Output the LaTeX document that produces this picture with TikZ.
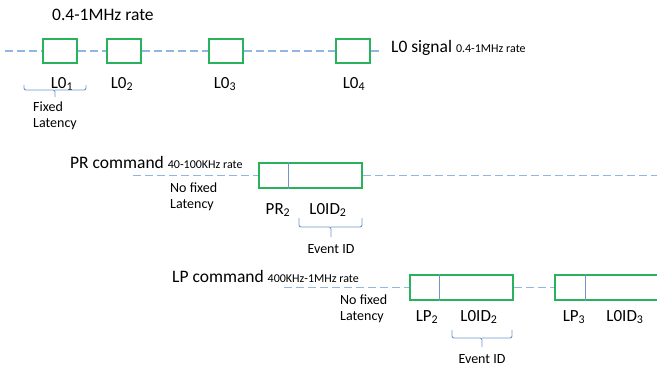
\documentclass[tikz,border=0pt]{standalone}
\usepackage{fontspec}
\setmainfont{Carlito}
\usetikzlibrary{positioning}
\definecolor{boxgreen}{RGB}{40,178,92}
\definecolor{linkblue}{RGB}{146,182,226}
\definecolor{bracblue}{RGB}{110,150,204}

\begin{document}
\begin{tikzpicture}[x=1pt, y=-1pt,
    frame/.style={rectangle, draw=boxgreen, line width=2pt, fill=white,
        minimum width=34pt, minimum height=24pt, inner sep=0pt},
    cmdframe/.style={frame, minimum width=103pt, minimum height=25pt},
    signal/.style={draw=linkblue, line width=1.2pt, dash pattern=on 8pt off 4pt},
    divider/.style={draw=bracblue, line width=0.9pt},
    bracket/.style={draw=bracblue, line width=0.9pt, rounded corners=2pt},
    title/.style={anchor=base west, inner sep=0pt, font=\fontsize{17.5}{20}\selectfont},
    label/.style={anchor=base, inner sep=0pt, font=\fontsize{17}{20}\selectfont},
    note/.style={anchor=north west, inner sep=0pt, align=left, font=\fontsize{14}{16}\selectfont},
    small/.style={font=\fontsize{12}{14}\selectfont}
]
\useasboundingbox (0,0) rectangle (657,370);
\clip (0,0) rectangle (657,370);

% L0 signal
\node (rate) [title] at (52,20) {0.4-1MHz rate};
\coordinate (L0start) at (5,51);
\node (L01) [frame] at (60,51) {};
\node (L02) [frame] at (123.5,51) {};
\node (L03) [frame] at (225.5,51) {};
\node (L04) [frame] at (353,51) {};
\coordinate (L0end) at (379,51);
\draw[signal] (L0start) -- (L01.west);
\draw[signal] (L01.east) -- (L02.west);
\draw[signal] (L02.east) -- (L03.west);
\draw[signal] (L03.east) -- (L04.west);
\draw[signal] (L04.east) -- (L0end);
\node (L0name) [title] at (391,52) {L0 signal {\fontsize{12}{14}\selectfont 0.4-1MHz rate}};
\node (L01lab) [label] at (62,88) {L0\textsubscript{1}};
\node (L02lab) [label] at (122,88) {L0\textsubscript{2}};
\node (L03lab) [label] at (225,88) {L0\textsubscript{3}};
\node (L04lab) [label] at (354,88) {L0\textsubscript{4}};
\coordinate (fixA) at (24,85);
\coordinate (fixB) at (86,85);
\coordinate (fixTip) at (55,97);
\draw[bracket] (fixA) |- (fixTip |- 0,90) -- (fixTip);
\draw[bracket] (fixB) |- (fixTip |- 0,90);
\node (fixed) [note] at (33,102) {Fixed\\Latency};

% PR command
\node (PRname) [title] at (70,168) {PR command {\fontsize{12}{14}\selectfont 40-100KHz rate}};
\coordinate (PRstart) at (133,175.5);
\node (PRbox) [cmdframe] at (310.5,175.5) {};
\coordinate (PRend) at (660,175.5);
\draw[signal] (PRstart) -- (PRbox.west);
\draw[signal] (PRbox.east) -- (PRend);
\draw[divider] ([xshift=30pt]PRbox.north west) -- ([xshift=30pt]PRbox.south west);
\node (PRnote) [note] at (170,183) {No fixed\\Latency};
\node (PR2) [label] at (278,214) {PR\textsubscript{2}};
\node (PRid) [label] at (328,214) {L0ID\textsubscript{2}};
\coordinate (evA) at (299,218);
\coordinate (evB) at (362,218);
\coordinate (evTip) at (331,237);
\draw[bracket] (evA) |- (evTip |- 0,227) -- (evTip);
\draw[bracket] (evB) |- (evTip |- 0,227);
\node (PRev) [label, font=\fontsize{14}{16}\selectfont] at (331,253) {Event ID};

% LP command
\node (LPname) [title] at (172,282) {LP command {\fontsize{12}{14}\selectfont 400KHz-1MHz rate}};
\coordinate (LPstart) at (284,287.5);
\node (LPbox2) [cmdframe] at (461.5,287.5) {};
\node (LPbox3) [cmdframe] at (606.5,287.5) {};
\draw[signal] (LPstart) -- (LPbox2.west);
\draw[signal] (LPbox2.east) -- (LPbox3.west);
\draw[divider] ([xshift=30pt]LPbox2.north west) -- ([xshift=30pt]LPbox2.south west);
\draw[divider] ([xshift=31pt]LPbox3.north west) -- ([xshift=31pt]LPbox3.south west);
\node (LPnote) [note] at (340,295) {No fixed\\Latency};
\node (LP2) [label] at (427,321) {LP\textsubscript{2}};
\node (LPid2) [label] at (479,321) {L0ID\textsubscript{2}};
\node (LP3) [label] at (574,321) {LP\textsubscript{3}};
\node (LPid3) [label] at (625,321) {L0ID\textsubscript{3}};
\coordinate (lvA) at (452,330);
\coordinate (lvB) at (512,330);
\coordinate (lvTip) at (482,347);
\draw[bracket] (lvA) |- (lvTip |- 0,338) -- (lvTip);
\draw[bracket] (lvB) |- (lvTip |- 0,338);
\node (LPev) [label, font=\fontsize{14}{16}\selectfont] at (482,363) {Event ID};
\end{tikzpicture}
\end{document}
